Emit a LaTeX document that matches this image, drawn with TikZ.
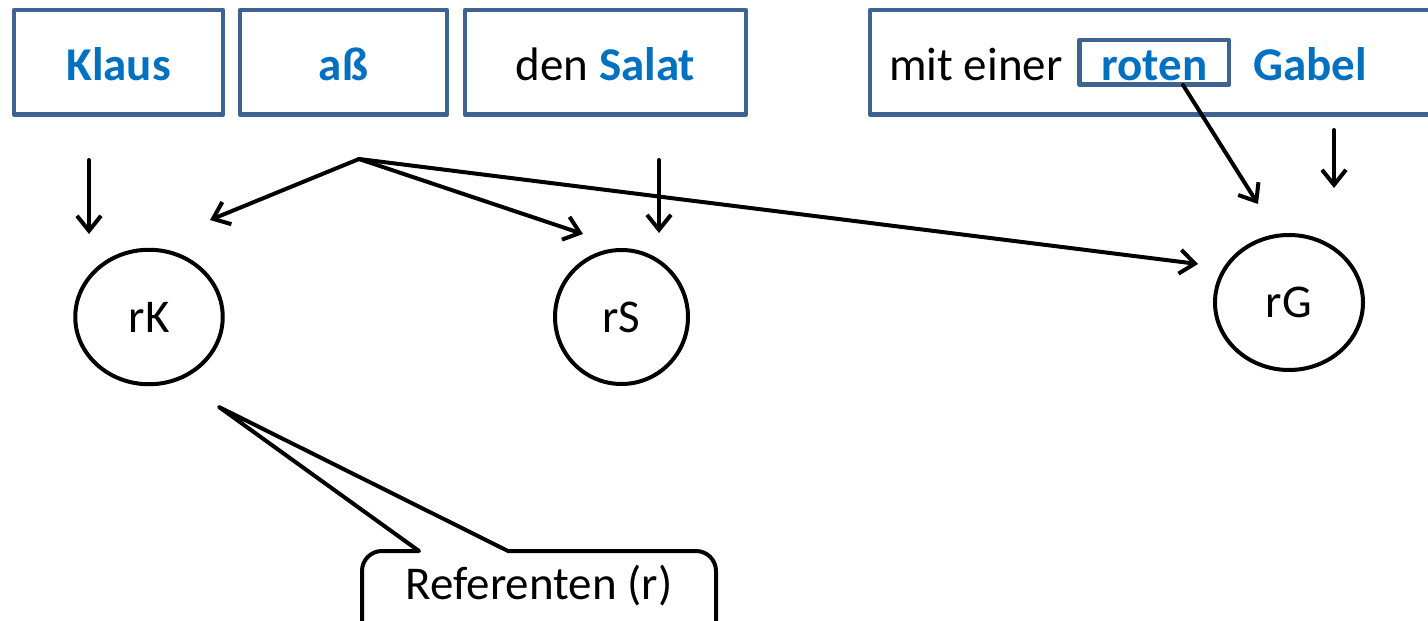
\documentclass[tikz,border=0pt]{standalone}
\usepackage{fontspec}
\setmainfont{Carlito}
\usetikzlibrary{arrows.meta,shapes.geometric}
\definecolor{boxline}{HTML}{3F6391}
\definecolor{wordblue}{HTML}{0070C0}
\begin{document}
\begin{tikzpicture}[x=1pt,y=-1pt,
  every node/.style={font=\fontsize{47}{56}\selectfont},
  wordbox/.style={draw=boxline,line width=4.8pt,line join=round,inner sep=0pt,
    minimum height=104.5pt,text height=35.5pt,text depth=0pt},
  word/.style={text=wordblue,font=\fontsize{47}{56}\selectfont\bfseries},
  refcirc/.style={ellipse,draw=black,line width=4pt,inner sep=0pt},
  link/.style={draw=black,line width=4pt,line cap=round,
    -{Straight Barb[length=15pt,width=24pt,line width=4pt]}},
  callout/.style={draw=black,line width=4pt,line join=round}]
\useasboundingbox (0,0) rectangle (1428,621);
\clip (0,0) rectangle (1428,621);

% word boxes of the sentence
\node[wordbox,minimum width=209pt] (klaus) at (118.5,62.25) {\textcolor{wordblue}{\bfseries Klaus}};
\node[wordbox,minimum width=207pt] (ass) at (343.5,62.25) {\textcolor{wordblue}{\bfseries aß}};
\node[wordbox,minimum width=281pt] (salat) at (605.5,62.25) {den \textcolor{wordblue}{\bfseries Salat}};
\node[wordbox,minimum width=580pt] (gabelbox) at (1160,62.25) {};
\node[anchor=base west,inner sep=0pt] (miteiner) at (889,80) {mit einer};
\node[wordbox,minimum width=149.5pt,minimum height=44.5pt] (roten) at (1154.25,62.25) {\textcolor{wordblue}{\bfseries roten}};
\node[word,anchor=base west,inner sep=0pt] (gabel) at (1253,80) {Gabel};

% referents
\node[refcirc,minimum width=147.5pt,minimum height=134.5pt] (rK) at (149,317) {rK};
\node[refcirc,minimum width=133pt,minimum height=134pt] (rS) at (621.5,317) {rS};
\node[refcirc,minimum width=148pt,minimum height=135pt] (rG) at (1289,302.5) {rG};

% arrow end points
\coordinate (klausA) at (89,160);   \coordinate (klausB) at (89,234);
\coordinate (salatA) at (659,160);  \coordinate (salatB) at (659,233);
\coordinate (gabelA) at (1334,130); \coordinate (gabelB) at (1334,188);
\coordinate (assA) at (359,159);
\coordinate (toK) at (210,220);
\coordinate (toS) at (583,234);
\coordinate (toG) at (1198,264);
\coordinate (rotenA) at (1183,85);  \coordinate (rotenB) at (1258,204);

\draw[link] (klausA) -- (klausB);
\draw[link] (salatA) -- (salatB);
\draw[link] (gabelA) -- (gabelB);
\draw[link] (assA) -- (toK);
\draw[link] (assA) -- (toS);
\draw[link] (assA) -- (toG);
\draw[link] (rotenA) -- (rotenB);

% callout bubble
\coordinate (tip) at (219,407);
\coordinate (baseL) at (419,551);
\coordinate (baseR) at (508,551);
\draw[callout] (tip) -- (baseL) -- (400,551) [rounded corners=20pt] -- (362,551) -- (362,650)
  -- (716,650) -- (716,551) -- (530,551) [sharp corners] -- (baseR) -- cycle;
\node[anchor=base,inner sep=0pt] (reflabel) at (539,599) {Referenten (r)};
\end{tikzpicture}
\end{document}
